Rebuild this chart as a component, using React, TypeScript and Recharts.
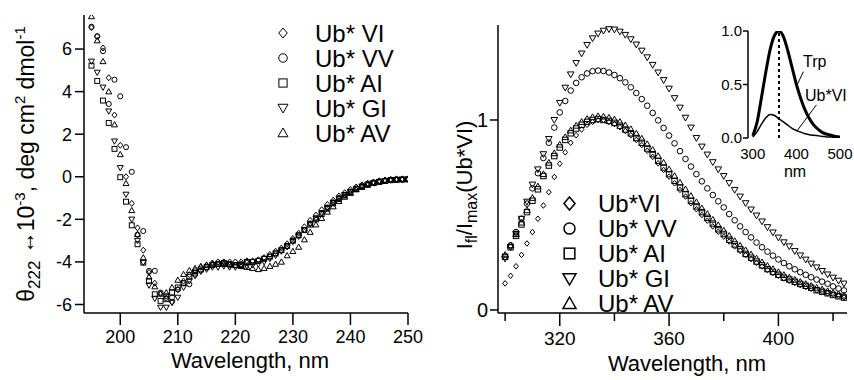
import React from "react";
import {
  ScatterChart,
  Scatter,
  LineChart,
  Line,
  XAxis,
  YAxis,
  Legend,
  Label,
  ReferenceLine,
} from "recharts";

const FONT = "'Liberation Sans', Arial, Helvetica, sans-serif";

// CD spectra, theta222 x 10^-3, 195..250 nm in 1 nm steps
const cdWavelengths = Array.from({ length: 56 }, (_, i) => 195 + i);
const cdVI = [
  7.0, 6.6, 6.05, 4.65, 2.9, 1.48, 0.0, -1.25, -2.4, -3.45,
  -4.5, -5.0, -5.5, -5.7, -5.9, -5.3, -4.9, -4.6, -4.4, -4.25,
  -4.15, -4.05, -4.0, -4.0, -4.0, -4.0, -4.0, -3.95, -3.95, -3.9,
  -3.8, -3.65, -3.5, -3.35, -3.15, -2.9, -2.65, -2.35, -2.05, -1.8,
  -1.55, -1.3, -1.1, -0.9, -0.75, -0.6, -0.48, -0.38, -0.3, -0.24,
  -0.19, -0.15, -0.12, -0.1, -0.1, -0.1,
];
const cdVV = [
  7.05, 6.6, 5.9, 3.42, 4.56, 3.78, 1.39, 0.23, -2.72, -2.55,
  -4.42, -4.42, -5.44, -5.6, -5.67, -5.3, -5.0, -5.05, -4.6, -4.4,
  -4.25, -4.15, -4.1, -4.1, -4.15, -4.15, -4.1, -4.05, -4.0, -3.95,
  -3.85, -3.75, -3.6, -3.45, -3.25, -3.0, -2.75, -2.5, -2.2, -1.95,
  -1.7, -1.45, -1.2, -1.0, -0.85, -0.7, -0.55, -0.45, -0.35, -0.28,
  -0.22, -0.18, -0.15, -0.13, -0.12, -0.12,
];
const cdAI = [
  5.22, 4.5, 3.58, 2.53, 1.31, -0.02, -1.17, -2.28, -3.17, -4.03,
  -4.89, -5.52, -5.83, -5.75, -5.44, -5.2, -5.0, -4.7, -4.5, -4.35,
  -4.25, -4.15, -4.1, -4.05, -4.1, -4.15, -4.15, -4.0, -4.0, -3.95,
  -3.85, -3.75, -3.6, -3.45, -3.25, -3.0, -2.75, -2.5, -2.25, -2.0,
  -1.75, -1.5, -1.25, -1.05, -0.88, -0.72, -0.58, -0.47, -0.37, -0.3,
  -0.24, -0.2, -0.16, -0.14, -0.13, -0.12,
];
const cdGI = [
  5.42, 4.9, 4.2, 3.08, 1.67, 0.42, -0.83, -2.0, -3.0, -4.03,
  -5.1, -5.72, -6.14, -6.14, -5.9, -5.67, -5.2, -4.9, -4.65, -4.45,
  -4.35, -4.25, -4.25, -4.2, -4.25, -4.25, -4.2, -4.2, -4.15, -4.1,
  -4.0, -3.85, -3.7, -3.5, -3.3, -3.05, -2.8, -2.5, -2.2, -1.95,
  -1.7, -1.45, -1.22, -1.02, -0.85, -0.7, -0.56, -0.45, -0.36, -0.29,
  -0.23, -0.19, -0.16, -0.14, -0.13, -0.12,
];
const cdAV = [
  7.53, 6.4, 5.42, 4.0, 2.45, 1.05, -0.31, -1.58, -2.7, -3.8,
  -4.7, -5.16, -5.5, -5.44, -5.2, -4.85, -4.58, -4.4, -4.3, -4.2,
  -4.15, -4.1, -4.1, -4.1, -4.1, -4.15, -4.2, -4.25, -4.3, -4.35,
  -4.3, -4.2, -4.1, -4.0, -3.7, -3.5, -3.3, -2.95, -2.6, -2.25,
  -1.95, -1.65, -1.4, -1.15, -0.95, -0.77, -0.6, -0.48, -0.38, -0.3,
  -0.24, -0.19, -0.16, -0.14, -0.12, -0.12,
];

// fluorescence, I_fl / I_max(Ub*VI), 300..424 nm in 2 nm steps
const flWavelengths = Array.from({ length: 63 }, (_, i) => 300 + 2 * i);
const flVI = [
  0.14, 0.18, 0.23, 0.29, 0.35, 0.41, 0.48, 0.55, 0.62, 0.7,
  0.77, 0.83, 0.88, 0.92, 0.95, 0.975, 0.99, 1.0, 1.0, 0.99,
  0.978, 0.962, 0.942, 0.92, 0.895, 0.868, 0.838, 0.806, 0.772, 0.737,
  0.702, 0.667, 0.632, 0.597, 0.562, 0.53, 0.5, 0.47, 0.44, 0.412,
  0.386, 0.36, 0.335, 0.311, 0.289, 0.268, 0.248, 0.229, 0.211, 0.195,
  0.18, 0.166, 0.154, 0.142, 0.131, 0.121, 0.112, 0.103, 0.095, 0.087,
  0.08, 0.073, 0.066,
];
const flVV = [
  0.28, 0.34, 0.41, 0.48, 0.56, 0.64, 0.72, 0.8, 0.88, 0.96,
  1.04, 1.1, 1.155, 1.195, 1.225, 1.245, 1.257, 1.26, 1.258, 1.25,
  1.237, 1.22, 1.198, 1.172, 1.142, 1.11, 1.075, 1.037, 0.998, 0.958,
  0.918, 0.877, 0.836, 0.795, 0.755, 0.715, 0.677, 0.64, 0.605, 0.572,
  0.54, 0.505, 0.472, 0.44, 0.41, 0.382, 0.355, 0.33, 0.307, 0.286,
  0.266, 0.247, 0.23, 0.214, 0.199, 0.185, 0.172, 0.16, 0.149, 0.138,
  0.124, 0.113, 0.103,
];
const flAI = [
  0.28, 0.33, 0.39, 0.45, 0.515, 0.575, 0.635, 0.705, 0.76, 0.81,
  0.855, 0.895, 0.93, 0.955, 0.975, 0.99, 1.0, 1.005, 1.0, 0.995,
  0.985, 0.97, 0.95, 0.93, 0.905, 0.88, 0.85, 0.82, 0.785, 0.75,
  0.715, 0.68, 0.645, 0.61, 0.575, 0.545, 0.515, 0.485, 0.455, 0.425,
  0.4, 0.37, 0.345, 0.32, 0.295, 0.275, 0.255, 0.235, 0.215, 0.2,
  0.185, 0.17, 0.16, 0.148, 0.137, 0.127, 0.117, 0.104, 0.096, 0.088,
  0.079, 0.072, 0.065,
];
const flGI = [
  0.27, 0.33, 0.4, 0.48, 0.57, 0.66, 0.74, 0.82, 0.9, 1.0,
  1.09, 1.17, 1.24, 1.3, 1.35, 1.395, 1.43, 1.455, 1.47, 1.478,
  1.476, 1.465, 1.448, 1.425, 1.397, 1.365, 1.33, 1.29, 1.25, 1.21,
  1.165, 1.115, 1.065, 1.012, 0.96, 0.905, 0.86, 0.818, 0.778, 0.74,
  0.705, 0.668, 0.632, 0.597, 0.562, 0.529, 0.497, 0.466, 0.436, 0.408,
  0.381, 0.356, 0.335, 0.31, 0.287, 0.265, 0.244, 0.224, 0.205, 0.187,
  0.17, 0.154, 0.139,
];
const flAV = [
  0.29, 0.34, 0.4, 0.46, 0.525, 0.59, 0.65, 0.715, 0.775, 0.825,
  0.87, 0.91, 0.945, 0.97, 0.99, 1.005, 1.015, 1.02, 1.018, 1.012,
  1.003, 0.99, 0.972, 0.952, 0.928, 0.902, 0.873, 0.843, 0.81, 0.775,
  0.74, 0.705, 0.67, 0.635, 0.6, 0.567, 0.535, 0.505, 0.475, 0.446,
  0.418, 0.39, 0.363, 0.338, 0.314, 0.292, 0.271, 0.251, 0.232, 0.215,
  0.199, 0.184, 0.171, 0.159, 0.148, 0.137, 0.127, 0.117, 0.108, 0.099,
  0.091, 0.083, 0.076,
];

// inset: normalised emission, 300..500 nm
const insetWavelengths = [
  300, 310, 320, 330, 340, 350, 360, 370, 380, 390, 400,
  410, 420, 430, 440, 450, 460, 470, 480, 490, 500,
];
const insetTrp = [
  0.02, 0.15, 0.38, 0.62, 0.83, 0.96, 1.0, 0.95, 0.82, 0.66, 0.5,
  0.37, 0.26, 0.18, 0.12, 0.08, 0.05, 0.035, 0.025, 0.015, 0.01,
];
const insetUbVI = [
  0.01, 0.06, 0.13, 0.19, 0.22, 0.21, 0.18, 0.15, 0.12, 0.09, 0.07,
  0.055, 0.04, 0.03, 0.025, 0.02, 0.015, 0.01, 0.01, 0.005, 0.005,
];

const cdXTicks = [200, 210, 220, 230, 240, 250];
const cdYTicks = [-6, -4, -2, 0, 2, 4, 6];
const flXTicks = [300, 320, 340, 360, 380, 400, 420];
const flXLabelled = [320, 360, 400];
const flYTicks = [0, 1];
const insetXTicks = [300, 400, 500];
const insetYTicks = [0, 0.5, 1];

const toPoints = (xs: number[], ys: number[]) =>
  xs.map((x, i) => ({ x, y: ys[i] }));

const insetData = insetWavelengths.map((x, i) => ({
  x,
  trp: insetTrp[i],
  ub: insetUbVI[i],
}));

type Kind = "diamond" | "circle" | "square" | "down" | "up";

const cdSeries: { name: string; kind: Kind; values: number[] }[] = [
  { name: "Ub* VI", kind: "diamond", values: cdVI },
  { name: "Ub* VV", kind: "circle", values: cdVV },
  { name: "Ub* AI", kind: "square", values: cdAI },
  { name: "Ub* GI", kind: "down", values: cdGI },
  { name: "Ub* AV", kind: "up", values: cdAV },
];

const flSeries: { name: string; kind: Kind; values: number[] }[] = [
  { name: "Ub*VI", kind: "diamond", values: flVI },
  { name: "Ub* VV", kind: "circle", values: flVV },
  { name: "Ub* AI", kind: "square", values: flAI },
  { name: "Ub* GI", kind: "down", values: flGI },
  { name: "Ub* AV", kind: "up", values: flAV },
];

const Marker = ({ kind, cx, cy, r, sw = 1 }: any) => {
  const common = { fill: "none", stroke: "#000", strokeWidth: sw };
  switch (kind) {
    case "circle":
      return <circle cx={cx} cy={cy} r={r * 0.85} {...common} />;
    case "square":
      return (
        <rect
          x={cx - r * 0.82}
          y={cy - r * 0.82}
          width={r * 1.64}
          height={r * 1.64}
          {...common}
        />
      );
    case "diamond":
      return (
        <path
          d={`M${cx},${cy - r}L${cx + r * 0.85},${cy}L${cx},${cy + r}L${cx - r * 0.85},${cy}Z`}
          {...common}
        />
      );
    case "up":
      return (
        <path
          d={`M${cx},${cy - r}L${cx + r},${cy + r * 0.75}L${cx - r},${cy + r * 0.75}Z`}
          {...common}
        />
      );
    default:
      return (
        <path
          d={`M${cx},${cy + r}L${cx + r},${cy - r * 0.75}L${cx - r},${cy - r * 0.75}Z`}
          {...common}
        />
      );
  }
};

const LegendBox = ({ items, r, sw, fontSize, gap }: any) => (
  <div style={{ fontFamily: FONT, fontSize, color: "#000" }}>
    {items.map((it: any) => (
      <div
        key={it.name}
        style={{ display: "flex", alignItems: "center", height: 25 }}
      >
        <svg width={2 * r + 4} height={2 * r + 4}>
          <Marker kind={it.kind} cx={r + 2} cy={r + 2} r={r} sw={sw} />
        </svg>
        <span
          style={{
            display: "inline-block",
            height: 25,
            lineHeight: "25px",
            overflow: "visible",
            marginLeft: gap,
            whiteSpace: "pre",
          }}
        >
          {it.name}
        </span>
      </div>
    ))}
  </div>
);

const axisStroke = { stroke: "#000", strokeWidth: 1.5 };

// x tick for the fluorescence panel: long labelled ticks, short bare ones
const FL_TICK_SIZE = 13;
const FL_TICK_MARGIN = 6;
const FlTick = (props: any) => {
  const { x, y, payload } = props;
  const labelled = flXLabelled.includes(payload.value);
  const axisY = y - FL_TICK_SIZE - FL_TICK_MARGIN;
  return (
    <g>
      <line
        x1={x}
        x2={x}
        y1={axisY}
        y2={axisY + (labelled ? FL_TICK_SIZE : 8)}
        stroke="#000"
        strokeWidth={1.5}
      />
      {labelled && (
        <text
          x={x}
          y={y}
          dy="0.71em"
          textAnchor="middle"
          fontSize={19}
          fontFamily={FONT}
          fill="#000"
        >
          {payload.value}
        </text>
      )}
    </g>
  );
};

const CdYLabel = () => (
  <text
    x={34}
    y={164}
    transform="rotate(-90 34 164)"
    textAnchor="middle"
    fontSize={23}
    fontFamily={FONT}
    fill="#000"
  >
    θ<tspan dy={6} fontSize={17}>222</tspan>
    <tspan dy={-6}> ↔10</tspan>
    <tspan dy={-9} fontSize={15}>-3</tspan>
    <tspan dy={9}>, deg cm</tspan>
    <tspan dy={-9} fontSize={15}>2</tspan>
    <tspan dy={9}> dmol</tspan>
    <tspan dy={-9} fontSize={15}>-1</tspan>
  </text>
);

const FlYLabel = () => (
  <text
    x={42}
    y={185}
    transform="rotate(-90 42 185)"
    textAnchor="middle"
    fontSize={22}
    fontFamily={FONT}
    fill="#000"
  >
    I<tspan dy={5} fontSize={16}>fl</tspan>
    <tspan dy={-5}>/I</tspan>
    <tspan dy={5} fontSize={16}>max</tspan>
    <tspan dy={-5}>(Ub*VI)</tspan>
  </text>
);

const xTitle = (cx: number, baseline: number) => () => (
  <text
    x={cx}
    y={baseline}
    textAnchor="middle"
    fontSize={22}
    fontFamily={FONT}
    fill="#000"
  >
    Wavelength, nm
  </text>
);

const App = () => {
  return (
    <div
      style={{
        position: "absolute",
        left: 0,
        top: 0,
        width: 854,
        height: 380,
        background: "#fff",
        fontFamily: FONT,
      }}
    >
      {/* CD panel */}
      <div style={{ position: "absolute", left: 0, top: 0 }}>
        <ScatterChart
          width={430}
          height={380}
          margin={{ top: 15, right: 22, bottom: 17, left: 24 }}
        >
          <XAxis
            type="number"
            dataKey="x"
            domain={[193.7, 250]}
            ticks={cdXTicks}
            allowDataOverflow
            height={50}
            tickSize={12}
            tickMargin={5}
            axisLine={axisStroke}
            tickLine={axisStroke}
            tick={{ fill: "#000", fontSize: 18, fontFamily: FONT }}
          >
            <Label content={xTitle(250, 368)} />
          </XAxis>
          <YAxis
            type="number"
            dataKey="y"
            domain={[-6.4, 7.6]}
            ticks={cdYTicks}
            allowDataOverflow
            width={60}
            tickSize={9}
            tickMargin={3}
            axisLine={axisStroke}
            tickLine={axisStroke}
            tick={{ fill: "#000", fontSize: 18, fontFamily: FONT }}
          >
            <Label content={CdYLabel} />
          </YAxis>
          <Legend
            layout="vertical"
            align="center"
            verticalAlign="middle"
            wrapperStyle={{ left: 276, top: 20.5, width: 150 }}
            content={() => (
              <LegendBox items={cdSeries} r={5} sw={1} fontSize={24} gap={25} />
            )}
          />
          {cdSeries.map((s) => (
            <Scatter
              key={s.name}
              name={s.name}
              data={toPoints(cdWavelengths, s.values)}
              isAnimationActive={false}
              shape={(p: any) => (
                <Marker kind={s.kind} cx={p.cx} cy={p.cy} r={3} />
              )}
            />
          ))}
        </ScatterChart>
      </div>

      {/* fluorescence panel */}
      <div style={{ position: "absolute", left: 430, top: 0 }}>
        <ScatterChart
          width={424}
          height={380}
          margin={{ top: 25, right: 7, bottom: 17, left: 18 }}
        >
          <XAxis
            type="number"
            dataKey="x"
            domain={[297.4, 425.1]}
            ticks={flXTicks}
            allowDataOverflow
            height={50}
            tickSize={FL_TICK_SIZE}
            tickMargin={FL_TICK_MARGIN}
            axisLine={axisStroke}
            tickLine={false}
            tick={<FlTick />}
          >
            <Label content={xTitle(257, 371)} />
          </XAxis>
          <YAxis
            type="number"
            dataKey="y"
            domain={[-0.016, 1.5]}
            ticks={flYTicks}
            allowDataOverflow
            width={50}
            tickSize={8}
            tickMargin={2}
            axisLine={axisStroke}
            tickLine={axisStroke}
            tick={{ fill: "#000", fontSize: 20, fontFamily: FONT }}
          >
            <Label content={FlYLabel} />
          </YAxis>
          <Legend
            layout="vertical"
            align="center"
            verticalAlign="middle"
            wrapperStyle={{ left: 130.5, top: 190.5, width: 160 }}
            content={() => (
              <LegendBox items={flSeries} r={6.5} sw={1.5} fontSize={24} gap={20.5} />
            )}
          />
          {flSeries.map((s) => (
            <Scatter
              key={s.name}
              name={s.name}
              data={toPoints(flWavelengths, s.values)}
              isAnimationActive={false}
              shape={(p: any) => (
                <Marker
                  kind={s.kind}
                  cx={p.cx}
                  cy={p.cy}
                  r={s.kind === "diamond" ? 2.8 : 3.3}
                />
              )}
            />
          ))}
        </ScatterChart>
      </div>

      {/* inset */}
      <div style={{ position: "absolute", left: 700, top: 0 }}>
        <LineChart
          width={154}
          height={190}
          data={insetData}
          margin={{ top: 31, right: 14, bottom: 12, left: 8 }}
        >
          <XAxis
            type="number"
            dataKey="x"
            domain={[289, 500]}
            ticks={insetXTicks}
            allowDataOverflow
            height={40}
            axisLine={false}
            tickLine={false}
            tickSize={0}
            tickMargin={10}
            tick={{ fill: "#000", fontSize: 15, fontFamily: FONT }}
          >
            <Label
              content={() => (
                <text
                  x={95}
                  y={177}
                  textAnchor="middle"
                  fontSize={16}
                  fontFamily={FONT}
                  fill="#000"
                >
                  nm
                </text>
              )}
            />
          </XAxis>
          <YAxis
            type="number"
            domain={[0, 1]}
            ticks={insetYTicks}
            allowDataOverflow
            width={40}
            tickSize={5}
            tickMargin={1}
            axisLine={axisStroke}
            tickLine={axisStroke}
            tickFormatter={(v: number) => v.toFixed(1)}
            tick={{ fill: "#000", fontSize: 15, fontFamily: FONT }}
          />
          <ReferenceLine
            segment={[
              { x: 360, y: 0 },
              { x: 360, y: 1 },
            ]}
            stroke="#000"
            strokeWidth={2}
            strokeDasharray="3 3"
          />
          <ReferenceLine
            segment={[
              { x: 416, y: 0.62 },
              { x: 401, y: 0.49 },
            ]}
            stroke="#000"
            strokeWidth={1}
          >
            <Label
              content={() => (
                <text x={103} y={67} fontSize={16} fontFamily={FONT} fill="#000">
                  Trp
                </text>
              )}
            />
          </ReferenceLine>
          <ReferenceLine
            segment={[
              { x: 446, y: 0.31 },
              { x: 403, y: 0.075 },
            ]}
            stroke="#000"
            strokeWidth={1}
          >
            <Label
              content={() => (
                <text x={105} y={101} fontSize={16} fontFamily={FONT} fill="#000">
                  Ub*VI
                </text>
              )}
            />
          </ReferenceLine>
          <Line
            type="monotone"
            dataKey="trp"
            stroke="#000"
            strokeWidth={3}
            dot={false}
            isAnimationActive={false}
          />
          <Line
            type="monotone"
            dataKey="ub"
            stroke="#000"
            strokeWidth={1.5}
            dot={false}
            isAnimationActive={false}
          />
        </LineChart>
      </div>
    </div>
  );
};

export default App;
